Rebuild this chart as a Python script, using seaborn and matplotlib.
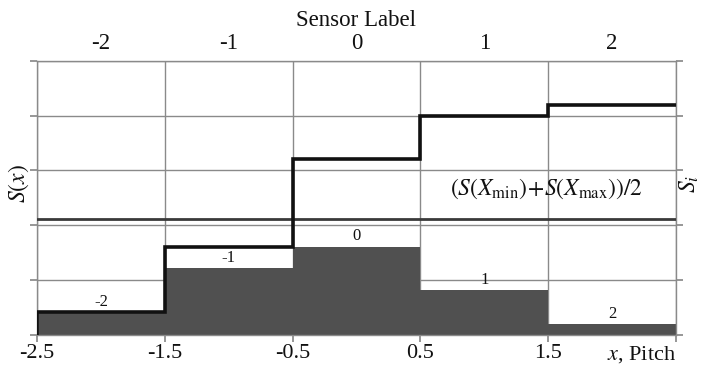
import matplotlib
matplotlib.use("Agg")
import matplotlib.pyplot as plt
import seaborn as sns
import numpy as np

# ---- data ----
sensor_labels = [-2, -1, 0, 1, 2]
signal = [0.42, 1.21, 1.61, 0.81, 0.19]
step_edges = [-2.5, -1.5, -0.5, 0.5, 1.5, 2.5]
step_levels = [0.42, 1.61, 3.21, 3.99, 4.20]
mid_level = 2.11
bottom_ticks = [-2.5, -1.5, -0.5, 0.5, 1.5, 2.5]
bottom_labels = ["-2.5", "-1.5", "-0.5", "0.5", "1.5", r"$x$, Pitch"]
y_ticks = [0, 1, 2, 3, 4, 5]

sns.set_theme(style="white")
plt.rcParams["font.family"] = ["Liberation Serif", "DejaVu Serif"]
plt.rcParams["mathtext.fontset"] = "stix"

GRID = "#8a8a8a"
fig = plt.figure(figsize=(7.07, 3.67), dpi=100)
ax = fig.add_axes([0.0523, 0.0880, 0.956 - 0.0523, 0.8338 - 0.0880])

sns.barplot(x=sensor_labels, y=signal, native_scale=True, width=1,
            color="#505050", saturation=1, edgecolor="none", linewidth=0,
            ax=ax, zorder=2)

# step line S(x)
xs = [step_edges[0]] + step_edges
ys = [0] + step_levels + [step_levels[-1]]
ax.plot(xs, ys, drawstyle="steps-post", color="#111111", lw=2.6, zorder=5,
        solid_joinstyle="miter")

# midline
ax.axhline(mid_level, color="#3a3a3a", lw=2.0, zorder=4)

# bar labels
for xv, yv in zip(sensor_labels, signal):
    ax.text(xv, yv + 0.04, str(xv), ha="center", va="bottom", fontsize=12,
            color="#111111", zorder=6)

ax.text(1.49, 2.66, r"$(S(X_{\rm min})\!+\!S(X_{\rm max}))/2$", ha="center",
        va="center", fontsize=17, color="#111111", zorder=6)

ax.set_xlim(-2.5, 2.5)
ax.set_ylim(0, 5)
ax.set_xticks(bottom_ticks)
ax.set_xticklabels(bottom_labels)
ax.get_xticklabels()[-1].set_horizontalalignment("right")
ax.set_yticks(y_ticks)
ax.set_yticklabels([])
ax.grid(True, color=GRID, lw=1.0)
ax.set_axisbelow(True)
for s in ax.spines.values():
    s.set_color(GRID)
    s.set_linewidth(1.0)
ax.tick_params(axis="x", which="both", bottom=True, top=True, direction="out",
               length=5, color=GRID, labelsize=16, pad=2, labelcolor="#111111")
ax.tick_params(axis="y", left=True, right=True, direction="out", length=5,
               color=GRID)
ax.set_xlabel("")
ax.set_ylabel("")

# top axis with sensor labels
ax2 = ax.twiny()
ax2.set_xlim(-2.5, 2.5)
ax2.set_xticks(sensor_labels)
ax2.set_xticklabels([str(v) for v in sensor_labels])
ax2.tick_params(axis="x", length=0, labelsize=16.5, pad=5, labelcolor="#111111")
for s in ax2.spines.values():
    s.set_visible(False)
ax2.set_xlabel("Sensor Label", fontsize=16.5, labelpad=5, color="#111111")

fig.text(0.026, 0.50, r"$S(x)$", rotation=90, ha="center", va="center",
         fontsize=17, color="#111111")
fig.text(0.975, 0.50, r"$S_i$", rotation=90, ha="center", va="center",
         fontsize=17, color="#111111")

fig.savefig("out.png", dpi=100)
